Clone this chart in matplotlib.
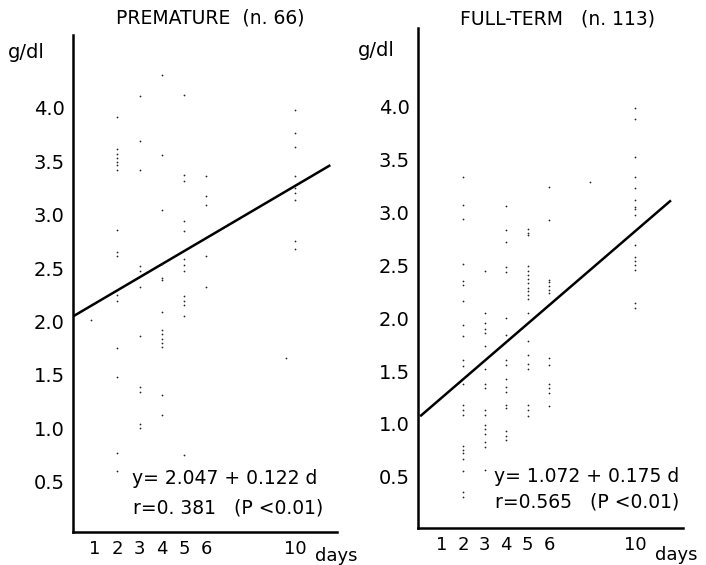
import matplotlib
matplotlib.use("Agg")
import matplotlib.pyplot as plt

# ---------------- data ----------------
# Premature (n. 66)
pre_days = [0.8] + [2]*16 + [3]*11 + [4]*14 + [5]*13 + [6]*5 + [10]*9 + [9.6]
pre_vals = [2.01,
            3.91, 3.61, 3.57, 3.53, 3.49, 3.46, 3.42, 2.86, 2.65, 2.61, 2.25, 2.19, 1.75, 1.48, 0.77, 0.60,
            4.11, 3.69, 3.42, 2.52, 2.47, 2.32, 1.86, 1.39, 1.34, 1.04, 1.00,
            4.31, 3.56, 3.04, 2.54, 2.41, 2.39, 2.09, 1.92, 1.88, 1.84, 1.80, 1.76, 1.31, 1.12,
            4.12, 3.37, 3.31, 2.94, 2.85, 2.58, 2.53, 2.47, 2.24, 2.19, 2.15, 2.05, 0.75,
            3.36, 3.17, 3.09, 2.61, 2.32,
            3.98, 3.76, 3.63, 3.36, 3.25, 3.20, 3.14, 2.75, 2.68,
            1.66]
pre_intercept, pre_slope = 2.047, 0.122
pre_line_days = [0, 11.6]

# Full-term (n. 113)
ft_days = [2]*22 + [3]*17 + [4]*17 + [5]*20 + [6]*13 + [7.9] + [10]*16
ft_vals = [3.34, 3.07, 2.94, 2.51, 2.35, 2.31, 2.16, 1.94, 1.83, 1.60, 1.55, 1.38, 1.18, 1.13, 1.08,
           0.79, 0.75, 0.72, 0.67, 0.55, 0.36, 0.31,
           2.45, 2.05, 1.95, 1.90, 1.86, 1.74, 1.52, 1.38, 1.34, 1.13, 1.08, 0.99, 0.95, 0.90, 0.83, 0.78, 0.56,
           3.06, 2.83, 2.72, 2.48, 2.44, 2.00, 1.84, 1.60, 1.56, 1.42, 1.35, 1.30, 1.18, 1.15, 0.93, 0.89, 0.85,
           2.84, 2.81, 2.79, 2.49, 2.45, 2.41, 2.37, 2.33, 2.29, 2.22, 2.18, 2.05, 1.78, 1.65, 1.57, 1.52,
           1.18, 1.13, 1.07, 2.26,
           3.24, 2.93, 2.36, 2.34, 2.30, 2.27, 2.24, 1.62, 1.56, 1.38, 1.34, 1.29, 1.17,
           3.29,
           3.99, 3.88, 3.52, 3.34, 3.23, 3.12, 3.05, 3.03, 2.98, 2.69, 2.58, 2.54, 2.50, 2.46, 2.14, 2.10]
ft_intercept, ft_slope = 1.072, 0.175
ft_line_days = [0, 11.67]

x_ticks = [1, 2, 3, 4, 5, 6, 10]
x_ticklabels = ["1", "2", "3", "4", "5", "6", "10"]
y_ticks = [0.5, 1.0, 1.5, 2.0, 2.5, 3.0, 3.5, 4.0]
y_ticklabels = ["0.5", "1.0", "1.5", "2.0", "2.5", "3.0", "3.5", "4.0"]

titles = ["PREMATURE  (n. 66)", "FULL-TERM   (n. 113)"]
eq_texts = ["y= 2.047 + 0.122 d", "y= 1.072 + 0.175 d"]
r_texts = ["r=0. 381   (P <0.01)", "r=0.565   (P <0.01)"]

# ---------------- figure ----------------
W, H = 706, 565
fig = plt.figure(figsize=(W/100, H/100), dpi=100)
plt.rcParams['font.family'] = ['DejaVu Sans']

def fx(px): return px / W
def fy(py): return 1 - py / H

ax1 = fig.add_axes([fx(73), fy(532), fx(337) - fx(73), fy(35) - fy(532)])
ax2 = fig.add_axes([fx(418), fy(528), fx(683) - fx(418), fy(28) - fy(528)])

panels = [
    (ax1, pre_days, pre_vals, pre_intercept, pre_slope, pre_line_days, (0, 11.9), (0.03, 4.68)),
    (ax2, ft_days, ft_vals, ft_intercept, ft_slope, ft_line_days, (-0.1, 12.23), (0.015, 4.745)),
]

for ax, d, v, b0, b1, ld, xl, yl in panels:
    ax.scatter(d, v, s=1.6, color='#222222', linewidths=0, zorder=3)
    ax.plot(ld, [b0 + b1 * t for t in ld], color='black', lw=1.8, solid_capstyle='butt')
    ax.set_xlim(*xl)
    ax.set_ylim(*yl)
    for s in ['top', 'right']:
        ax.spines[s].set_visible(False)
    for s in ['left', 'bottom']:
        ax.spines[s].set_linewidth(1.8)
    ax.set_xticks(x_ticks)
    ax.set_xticklabels(x_ticklabels, fontsize=13)
    ax.set_yticks(y_ticks)
    ax.set_yticklabels(y_ticklabels, fontsize=14)
    ax.tick_params(axis='both', length=0, pad=6)
    ax.patch.set_alpha(0)

# titles
fig.text(fx(210), fy(18), titles[0], ha='center', va='center', fontsize=13.5)
fig.text(fx(557), fy(19), titles[1], ha='center', va='center', fontsize=13.5)
# units
fig.text(fx(8), fy(52), "g/dl", ha='left', va='center', fontsize=14)
fig.text(fx(358), fy(50), "g/dl", ha='left', va='center', fontsize=14)
# x labels
fig.text(fx(315), fy(556), "days", ha='left', va='center', fontsize=13)
fig.text(fx(655), fy(555), "days", ha='left', va='center', fontsize=13)
# equations
fig.text(fx(132), fy(479), eq_texts[0], ha='left', va='center', fontsize=13.5)
fig.text(fx(133), fy(508), r_texts[0], ha='left', va='center', fontsize=13.5)
fig.text(fx(494), fy(477), eq_texts[1], ha='left', va='center', fontsize=13.5)
fig.text(fx(495), fy(502), r_texts[1], ha='left', va='center', fontsize=13.5)

fig.savefig("out.png", dpi=100)
